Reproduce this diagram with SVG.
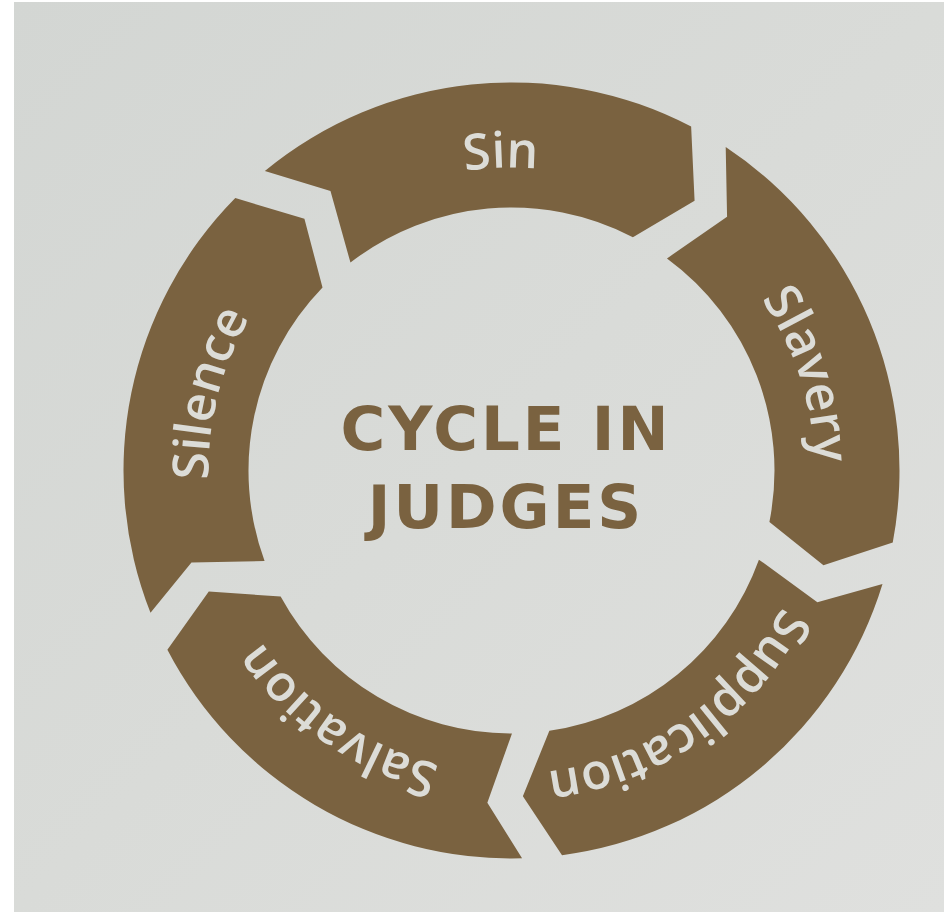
<svg xmlns="http://www.w3.org/2000/svg" width="944" height="912" viewBox="0 0 944 912">
<defs>
<linearGradient id="bg" x1="0" y1="0" x2="1" y2="1">
<stop offset="0" stop-color="#d3d6d3"/>
<stop offset="0.5" stop-color="#d9dbd8"/>
<stop offset="1" stop-color="#dfe0de"/>
</linearGradient>
<path id="ring" d="M511.5,773.5 A303,303 0 1 1 511.5,167.5 A303,303 0 1 1 511.5,773.5"/>
</defs>
<style>
.seg{fill:#7a6240;}
.lbl{font-family:"Open Sans","DejaVu Sans",sans-serif;font-weight:600;font-size:50px;fill:#dcdcd7;text-anchor:middle;}
.title{font-family:"DejaVu Sans","Open Sans",sans-serif;font-weight:bold;font-size:61px;fill:#7a6240;text-anchor:middle;letter-spacing:3px;}
</style>
<rect x="0" y="0" width="944" height="912" fill="#ffffff"/>
<rect x="14" y="2" width="930" height="910" fill="url(#bg)"/>
<g id="sin">
<path class="seg" d="M264.85,170.96 A388,388 0 0 1 691.14,126.58 L694.58,200.77 L632.90,237.19 A263,263 0 0 0 350.44,262.57 L330.48,190.98 Z"/>
<text class="lbl"><textPath href="#ring" startOffset="49.46%">Sin</textPath></text>
</g>
<g id="slavery">
<path class="seg" d="M725.71,146.99 A388,388 0 0 1 892.75,542.55 L823.45,565.17 L769.42,521.89 A263,263 0 0 0 666.99,258.39 L727.08,216.69 Z"/>
<text class="lbl"><textPath href="#ring" startOffset="70%">Slavery</textPath></text>
</g>
<g id="supplication">
<path class="seg" d="M882.51,584.11 A388,388 0 0 1 562.02,855.20 L522.88,796.30 L549.37,730.76 A263,263 0 0 0 758.93,559.63 L817.36,602.17 Z"/>
<text class="lbl"><textPath href="#ring" startOffset="90.28%">Supplication</textPath></text>
</g>
<g id="salvation">
<path class="seg" d="M522.06,858.36 A388,388 0 0 1 167.38,649.83 L208.78,591.48 L280.64,596.53 A263,263 0 0 0 511.96,733.5 L487.36,802.63 Z"/>
<text class="lbl"><textPath href="#ring" startOffset="9.64%">Salvation</textPath></text>
</g>
<g id="silence">
<path class="seg" d="M150.5,612.74 A388,388 0 0 1 235.28,198.05 L304.42,218.66 L322.51,287.61 A263,263 0 0 0 264.57,561.05 L191.45,562.44 Z"/>
<text class="lbl"><textPath href="#ring" startOffset="28.97%">Silence</textPath></text>
</g>
<g id="title">
<text class="title" x="506" y="450">CYCLE IN</text>
<text class="title" x="506" y="528">JUDGES</text>
</g>
<g id="connectors"></g>
</svg>
